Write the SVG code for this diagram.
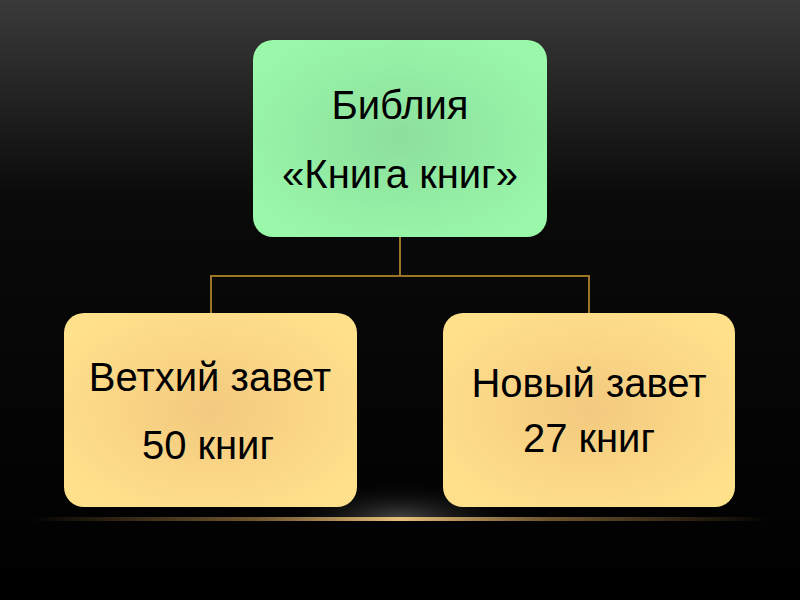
<svg xmlns="http://www.w3.org/2000/svg" width="800" height="600" viewBox="0 0 800 600">
<defs>
<linearGradient id="bg" x1="0" y1="0" x2="0" y2="1">
<stop offset="0" stop-color="#3a3a3a"/>
<stop offset="0.33" stop-color="#0a0a0a"/>
<stop offset="1" stop-color="#000"/>
</linearGradient>
<radialGradient id="glow" cx="0.5" cy="1" r="0.5" gradientTransform="translate(0.25 0) scale(0.5 1)">
<stop offset="0" stop-color="#4a4a4a"/>
<stop offset="1" stop-color="#000" stop-opacity="0"/>
</radialGradient>
<linearGradient id="gline" x1="0" y1="0" x2="1" y2="0">
<stop offset="0" stop-color="#c8964a" stop-opacity="0"/>
<stop offset="0.3" stop-color="#b58a4a" stop-opacity="0.6"/>
<stop offset="0.5" stop-color="#e6c07a"/>
<stop offset="0.7" stop-color="#b58a4a" stop-opacity="0.6"/>
<stop offset="1" stop-color="#c8964a" stop-opacity="0"/>
</linearGradient>
<radialGradient id="green" cx="0.5" cy="0.5" r="0.6">
<stop offset="0" stop-color="#8cdf9c"/>
<stop offset="1" stop-color="#9af8aa"/>
</radialGradient>
<radialGradient id="yellow" cx="0.5" cy="0.5" r="0.6">
<stop offset="0" stop-color="#f3c97f"/>
<stop offset="1" stop-color="#ffe18b"/>
</radialGradient>
</defs>
<style>
.t{font-family:"Liberation Sans",Arial,sans-serif;font-size:40px;fill:#000;text-anchor:middle}
.c{stroke:#9a7526;stroke-width:2;fill:none}
</style>
<rect width="800" height="600" fill="url(#bg)"/>
<rect x="150" y="440" width="500" height="80" fill="url(#glow)"/>
<rect x="30" y="517" width="740" height="4" fill="url(#gline)"/>
<g id="connectors">
<path class="c" d="M400 237V276M211 313V276H589V313"/>
</g>
<g id="bible">
<rect x="253" y="40" width="294" height="197" rx="20" fill="url(#green)"/>
<text class="t" x="400" y="119">Библия</text>
<text class="t" x="400" y="188">«Книга книг»</text>
</g>
<g id="old">
<rect x="64" y="313" width="293" height="194" rx="20" fill="url(#yellow)"/>
<text class="t" x="210" y="391">Ветхий завет</text>
<text class="t" x="208" y="459">50 книг</text>
</g>
<g id="new">
<rect x="443" y="313" width="292" height="194" rx="20" fill="url(#yellow)"/>
<text class="t" x="589" y="397">Новый завет</text>
<text class="t" x="589" y="452">27 книг</text>
</g>
</svg>
